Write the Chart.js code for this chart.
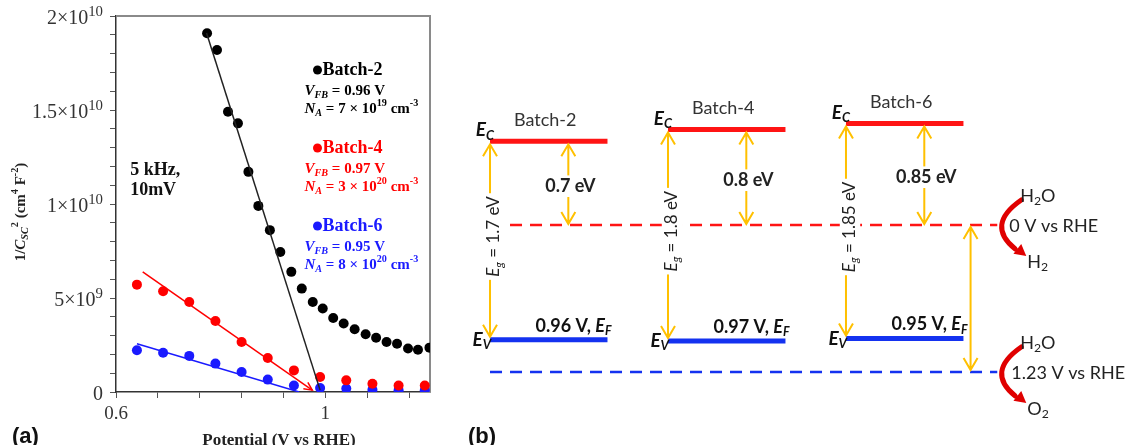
<!DOCTYPE html>
<html>
<head>
<meta charset="utf-8">
<script src="https://cdn.jsdelivr.net/npm/chart.js@4.4.0/dist/chart.umd.min.js"></script>
<style>
  html, body { margin: 0; padding: 0; background: #fff; }
  #wrap { position: relative; width: 1132px; height: 445px; overflow: hidden; }
  #chartA { position: absolute; left: 0; top: 0; }
  #chartB { position: absolute; left: 440px; top: 0; }
</style>
</head>
<body>
<div id="wrap">
  <canvas id="chartA" width="440" height="445"></canvas>
  <canvas id="chartB" width="692" height="445"></canvas>
</div>
<script>
// ---------- panel (a): Mott-Schottky plot ----------
var batchNames  = ['Batch-2', 'Batch-4', 'Batch-6'];
var batchColors = ['#000000', '#ff0000', '#1a1aff'];

var b2V = [0.774, 0.793, 0.814, 0.833, 0.853, 0.872, 0.894, 0.914, 0.935, 0.955, 0.976,
           0.995, 1.015, 1.035, 1.056, 1.077, 1.097, 1.117, 1.137, 1.158, 1.177, 1.199];
var b2C = [1.908e10, 1.819e10, 1.491e10, 1.429e10, 1.171e10, 9.90e9, 8.61e9, 7.45e9, 6.39e9, 5.50e9, 4.79e9,
           4.44e9, 3.94e9, 3.64e9, 3.34e9, 3.07e9, 2.89e9, 2.66e9, 2.57e9, 2.31e9, 2.25e9, 2.36e9];
var b46V = [0.64, 0.69, 0.74, 0.79, 0.84, 0.89, 0.94, 0.99, 1.04, 1.09, 1.14, 1.19];
var b4C = [5.71e9, 5.36e9, 4.79e9, 3.78e9, 2.66e9, 1.81e9, 1.15e9, 0.80e9, 0.62e9, 0.44e9, 0.35e9, 0.35e9];
var b6C = [2.22e9, 2.09e9, 1.92e9, 1.51e9, 1.06e9, 0.66e9, 0.35e9, 0.21e9, 0.18e9, 0.12e9, 0.09e9, 0.09e9];

// linear fits (start / end)
var fitV = [[0.773, 0.990], [0.651, 0.975], [0.640, 0.950]];
var fitC = [[1.91e10, 0.1e9], [6.39e9, 0.1e9], [2.57e9, 0]];

var vfbLabels = ['0.96', '0.97', '0.95'];
var naLabels  = ['7 × 10^{19}', '3 × 10^{20}', '8 × 10^{20}'];

var xTickVals   = [0.6, 0.68, 0.76, 0.84, 0.92, 1.0, 1.08, 1.16];
var xTickLabels = ['0.6', '', '', '', '', '1', '', ''];
var yTickVals   = [0, 1e9, 2e9, 3e9, 4e9, 5e9, 6e9, 7e9, 8e9, 9e9, 1e10,
                   1.1e10, 1.2e10, 1.3e10, 1.4e10, 1.5e10, 1.6e10, 1.7e10, 1.8e10, 1.9e10, 2e10];
var yMajorVals   = [0, 5e9, 1e10, 1.5e10, 2e10];
var yMajorLabels = ['0', '5×10^{9}', '1×10^{10}', '1.5×10^{10}', '2×10^{10}'];

// ---------- panel (b): band diagram (V vs RHE) ----------
var ecLevels     = [-0.70, -0.80, -0.85];
var evLevels     = [0.96, 0.97, 0.95];
var gapLabels    = ['1.7', '1.8', '1.85'];
var ecOffLabels  = ['0.7', '0.8', '0.85'];
var redoxLevels  = [0, 1.23];
var redoxLabels  = ['0 V vs RHE', '1.23 V vs RHE'];
var redoxProduct = ['H_{2}', 'O_{2}'];

var SERIF = '"Liberation Serif", "Times New Roman", serif';
var SANS  = 'Lato, "Noto Sans", sans-serif';
var ARIAL = '"Liberation Sans", Arial, sans-serif';

// tiny rich-text helper: _{sub}  ^{sup}  *italic*
function parseRich(s) {
  var parts = [], mode = '', it = false, buf = '';
  function flush() { if (buf) parts.push({ t: buf, sub: mode === '_', sup: mode === '^', i: it }); buf = ''; }
  for (var k = 0; k < s.length; k++) {
    var c = s[k];
    if ((c === '_' || c === '^') && s[k + 1] === '{') { flush(); mode = c; k++; }
    else if (c === '}' && mode) { flush(); mode = ''; }
    else if (c === '*') { flush(); it = !it; }
    else buf += c;
  }
  flush();
  return parts;
}
function partFont(p, o) {
  var sz = (p.sub || p.sup) ? o.size * (o.ss || 0.68) : o.size;
  return (p.i ? 'italic ' : '') + (o.bold ? 'bold ' : '') + sz + 'px ' + o.family;
}
function drawRich(ctx, str, x, y, o) {
  var parts = parseRich(str), w = 0;
  parts.forEach(function (p) { ctx.font = partFont(p, o); w += ctx.measureText(p.t).width; });
  var cx = o.align === 'center' ? x - w / 2 : (o.align === 'right' ? x - w : x);
  if (o.bg) { ctx.fillStyle = o.bg; ctx.fillRect(cx - 3, y - o.size * 0.6, w + 6, o.size * 1.2); }
  ctx.textAlign = 'left';
  ctx.textBaseline = 'middle';
  ctx.fillStyle = o.color || '#000';
  parts.forEach(function (p) {
    ctx.font = partFont(p, o);
    var dy = p.sub ? o.size * 0.28 : (p.sup ? -o.size * 0.36 : 0);
    ctx.fillText(p.t, cx, y + dy);
    cx += ctx.measureText(p.t).width;
  });
  return w;
}

function pts(xs, ys) { return xs.map(function (x, i) { return { x: x, y: ys[i] }; }); }

var pointSets = [
  { label: batchNames[0], data: pts(b2V, b2C), backgroundColor: batchColors[0] },
  { label: batchNames[1], data: pts(b46V, b4C), backgroundColor: batchColors[1] },
  { label: batchNames[2], data: pts(b46V, b6C), backgroundColor: batchColors[2] }
].map(function (d) { d.borderWidth = 0; d.pointRadius = 5; return d; });

var fitSets = fitV.map(function (v, i) {
  return { data: pts(v, fitC[i]), showLine: true, pointRadius: 0,
           borderColor: i === 0 ? '#222' : batchColors[i], borderWidth: 1.5 };
});

var panelA = {
  id: 'panelA',
  beforeDatasetsDraw: function (chart) {
    var a = chart.chartArea, ctx = chart.ctx;
    ctx.save();
    ctx.strokeStyle = '#8a8a8a';
    ctx.lineWidth = 2;
    ctx.beginPath();
    ctx.moveTo(a.left, a.top); ctx.lineTo(a.right, a.top); ctx.lineTo(a.right, a.bottom);
    ctx.stroke();
    ctx.restore();
  },
  afterDraw: function (chart) {
    var a = chart.chartArea, ctx = chart.ctx, xs = chart.scales.x, ys = chart.scales.y;
    ctx.save();
    // y tick labels
    yMajorVals.forEach(function (v, i) {
      drawRich(ctx, yMajorLabels[i], a.left - 13, ys.getPixelForValue(v) + 3,
               { size: 20, ss: 0.74, family: SERIF, color: '#333', align: 'right' });
    });
    // y title
    ctx.save();
    ctx.translate(21, (a.top + a.bottom) / 2 + 8);
    ctx.rotate(-Math.PI / 2);
    drawRich(ctx, '1/*C*_{*SC*}^{2} (cm^{4} F^{-2})', 0, 0, { size: 15, family: SERIF, bold: true, color: '#222', align: 'center' });
    ctx.restore();
    // x title
    drawRich(ctx, 'Potential (V vs RHE)', (a.left + a.right) / 2 + 6, 441, { size: 17, family: SERIF, bold: true, color: '#222', align: 'center' });
    // legend blocks
    batchNames.forEach(function (name, i) {
      var top = a.top + 54 + i * 78, xd = xs.getPixelForValue(0.985);
      ctx.fillStyle = batchColors[i];
      ctx.beginPath(); ctx.arc(xd, top, 4.5, 0, Math.PI * 2); ctx.fill();
      drawRich(ctx, name, xd + 5, top, { size: 18, family: SERIF, bold: true, color: batchColors[i] });
      drawRich(ctx, '*V*_{*FB*} = ' + vfbLabels[i] + ' V', xd - 13, top + 21, { size: 15, family: SERIF, bold: true, color: batchColors[i] });
      drawRich(ctx, '*N*_{*A*} = ' + naLabels[i] + ' cm^{-3}', xd - 13, top + 39, { size: 15, family: SERIF, bold: true, color: batchColors[i] });
    });
    // measurement conditions
    var xc = xs.getPixelForValue(0.627);
    drawRich(ctx, '5 kHz,', xc, ys.getPixelForValue(1.18e10), { size: 18, family: SERIF, bold: true, color: '#111' });
    drawRich(ctx, '10mV', xc, ys.getPixelForValue(1.07e10), { size: 18, family: SERIF, bold: true, color: '#111' });
    // arrow head on Batch-4 fit
    var p0 = { x: xs.getPixelForValue(fitV[1][0]), y: ys.getPixelForValue(fitC[1][0]) };
    var p1 = { x: xs.getPixelForValue(fitV[1][1]), y: ys.getPixelForValue(fitC[1][1]) };
    var ang = Math.atan2(p1.y - p0.y, p1.x - p0.x);
    ctx.strokeStyle = batchColors[1]; ctx.lineWidth = 1.5;
    ctx.beginPath();
    ctx.moveTo(p1.x - 9 * Math.cos(ang - 0.45), p1.y - 9 * Math.sin(ang - 0.45));
    ctx.lineTo(p1.x, p1.y);
    ctx.lineTo(p1.x - 9 * Math.cos(ang + 0.45), p1.y - 9 * Math.sin(ang + 0.45));
    ctx.stroke();
    // panel tag
    ctx.font = 'bold 22px ' + ARIAL; ctx.fillStyle = '#111'; ctx.textAlign = 'left'; ctx.textBaseline = 'alphabetic';
    ctx.fillText('(a)', 12, 443);
    ctx.restore();
  }
};

new Chart(document.getElementById('chartA'), {
  type: 'scatter',
  data: { datasets: fitSets.concat(pointSets) },
  options: {
    responsive: false,
    animation: false,
    layout: { padding: { left: 0, right: 10, top: 16, bottom: 0 } },
    plugins: { legend: { display: false }, tooltip: { enabled: false } },
    scales: {
      x: {
        type: 'linear', min: 0.6, max: 1.2,
        afterBuildTicks: function (s) { s.ticks = xTickVals.map(function (v) { return { value: v }; }); },
        afterFit: function (s) { s.height = 53; },
        ticks: {
          autoSkip: false, maxRotation: 0, padding: 5, color: '#333',
          font: { family: SERIF, size: 19 },
          callback: function (v, i) { return xTickLabels[i]; }
        },
        grid: { drawOnChartArea: false, tickLength: 6, color: '#555' },
        border: { color: '#333', width: 1.5 }
      },
      y: {
        type: 'linear', min: 0, max: 2e10,
        afterBuildTicks: function (s) { s.ticks = yTickVals.map(function (v) { return { value: v }; }); },
        afterFit: function (s) { s.width = 116; },
        ticks: { autoSkip: false, callback: function () { return ''; } },
        grid: { drawOnChartArea: false, tickLength: 6, color: '#555' },
        border: { color: '#333', width: 1.5 }
      }
    }
  },
  plugins: [panelA]
});

// ---------- panel (b) ----------
var BAR_W = 0.66, OFF_X = 0.44, REDOX_END = 2.85, RIGHT_ARROW_X = 2.70;
var RED = '#ff1414', BLUE = '#1432f0', GOLD = '#ffc000', CURVE = '#e00000';

var bandSets = [];
batchNames.forEach(function (name, i) {
  bandSets.push({ data: [{ x: i, y: ecLevels[i] }, { x: i + BAR_W, y: ecLevels[i] }], borderColor: RED, borderWidth: 5 });
  bandSets.push({ data: [{ x: i, y: evLevels[i] }, { x: i + BAR_W, y: evLevels[i] }], borderColor: BLUE, borderWidth: 5 });
  bandSets.push({ data: [{ x: i + 0.11, y: evLevels[i] }, { x: i + BAR_W, y: evLevels[i] }], borderColor: '#111', borderWidth: 1.5, borderDash: [3, 4] });
});
redoxLevels.forEach(function (v, k) {
  bandSets.push({ data: [{ x: 0, y: v }, { x: REDOX_END, y: v }], borderColor: k ? BLUE : RED, borderWidth: 2.5, borderDash: [12, 8] });
});
bandSets.forEach(function (d) { d.showLine = true; d.pointRadius = 0; });

function vArrow(ctx, x, y1, y2) {
  ctx.beginPath();
  ctx.moveTo(x, y1); ctx.lineTo(x, y2);
  ctx.moveTo(x - 7, y1 + 12); ctx.lineTo(x, y1); ctx.lineTo(x + 7, y1 + 12);
  ctx.moveTo(x - 7, y2 - 12); ctx.lineTo(x, y2); ctx.lineTo(x + 7, y2 - 12);
  ctx.stroke();
}

var panelB = {
  id: 'panelB',
  afterDatasetsDraw: function (chart) {
    var ctx = chart.ctx, xs = chart.scales.x, ys = chart.scales.y;
    var y0 = ys.getPixelForValue(redoxLevels[0]), y1 = ys.getPixelForValue(redoxLevels[1]);
    ctx.save();
    batchNames.forEach(function (name, i) {
      var x0 = xs.getPixelForValue(i), x1 = xs.getPixelForValue(i + BAR_W), xo = xs.getPixelForValue(i + OFF_X);
      var yc = ys.getPixelForValue(ecLevels[i]), yv = ys.getPixelForValue(evLevels[i]);
      ctx.strokeStyle = GOLD; ctx.lineWidth = 2;
      vArrow(ctx, x0, yc + 3, yv - 3);
      vArrow(ctx, xo, yc + 3, y0 - 1);
      // band gap label (rotated, sits on the arrow)
      ctx.save();
      ctx.translate(x0 + 4, (yc + yv) / 2 - 4);
      ctx.rotate(-Math.PI / 2);
      drawRich(ctx, '*E*_{*g*} = ' + gapLabels[i] + ' eV', 0, 0, { size: 17, family: SANS, color: '#222', align: 'center', bg: '#fff' });
      ctx.restore();
      drawRich(ctx, ecOffLabels[i] + ' eV', xo + 2, (yc + y0) / 2 + 3, { size: 18, family: SANS, bold: true, color: '#222', align: 'center', bg: '#fff' });
      drawRich(ctx, name, xs.getPixelForValue(i + 0.31), yc - 21, { size: 18, family: SANS, color: '#333', align: 'center' });
      drawRich(ctx, '*E*_{*C*}', x0 + 4, yc - 11, { size: 19, family: SANS, bold: true, color: '#111', align: 'right' });
      drawRich(ctx, '*E*_{*V*}', x0 + 1, yv, { size: 19, family: SANS, bold: true, color: '#111', align: 'right' });
      drawRich(ctx, evLevels[i].toFixed(2) + ' V, *E*_{*F*}', x1 + 4, yv - 14, { size: 18, family: SANS, bold: true, color: '#111', align: 'right' });
    });
    // arrow between the two redox levels
    ctx.strokeStyle = GOLD; ctx.lineWidth = 2;
    vArrow(ctx, xs.getPixelForValue(RIGHT_ARROW_X), y0 + 2, y1 - 2);
    // water splitting curved arrows
    var xe = xs.getPixelForValue(REDOX_END) + 2;
    redoxLevels.forEach(function (v, k) {
      var ye = ys.getPixelForValue(v);
      ctx.strokeStyle = CURVE; ctx.fillStyle = CURVE; ctx.lineWidth = 5; ctx.lineCap = 'round';
      ctx.beginPath();
      ctx.moveTo(xe + 22, ye - 25);
      ctx.quadraticCurveTo(xe - 14, ye, xe + 16, ye + 24);
      ctx.stroke();
      var ang = Math.atan2(24, 30);
      var tx = xe + 27, ty = ye + 31;
      ctx.beginPath();
      ctx.moveTo(tx, ty);
      ctx.lineTo(tx - 13 * Math.cos(ang - 0.5), ty - 13 * Math.sin(ang - 0.5));
      ctx.lineTo(tx - 13 * Math.cos(ang + 0.5), ty - 13 * Math.sin(ang + 0.5));
      ctx.closePath(); ctx.fill();
      ctx.lineCap = 'butt';
      drawRich(ctx, 'H_{2}O', xe + 21, ye - 29, { size: 18, family: SANS, color: '#222' });
      drawRich(ctx, redoxLabels[k], xe + 10 + k * 2, ye + 1, { size: 18, family: SANS, color: '#222' });
      drawRich(ctx, redoxProduct[k], xe + 28, ye + 37, { size: 18, family: SANS, color: '#222' });
    });
    ctx.font = 'bold 22px ' + ARIAL; ctx.fillStyle = '#111'; ctx.textAlign = 'left'; ctx.textBaseline = 'alphabetic';
    ctx.fillText('(b)', 28, 443);
    ctx.restore();
  }
};

new Chart(document.getElementById('chartB'), {
  type: 'scatter',
  data: { datasets: bandSets },
  options: {
    responsive: false,
    animation: false,
    layout: { padding: 0 },
    plugins: { legend: { display: false }, tooltip: { enabled: false } },
    scales: {
      x: { type: 'linear', display: false, min: -0.281, max: 3.607 },
      y: { type: 'linear', display: false, reverse: true, min: -1.883, max: 1.841 }
    }
  },
  plugins: [panelB]
});
</script>
</body>
</html>
